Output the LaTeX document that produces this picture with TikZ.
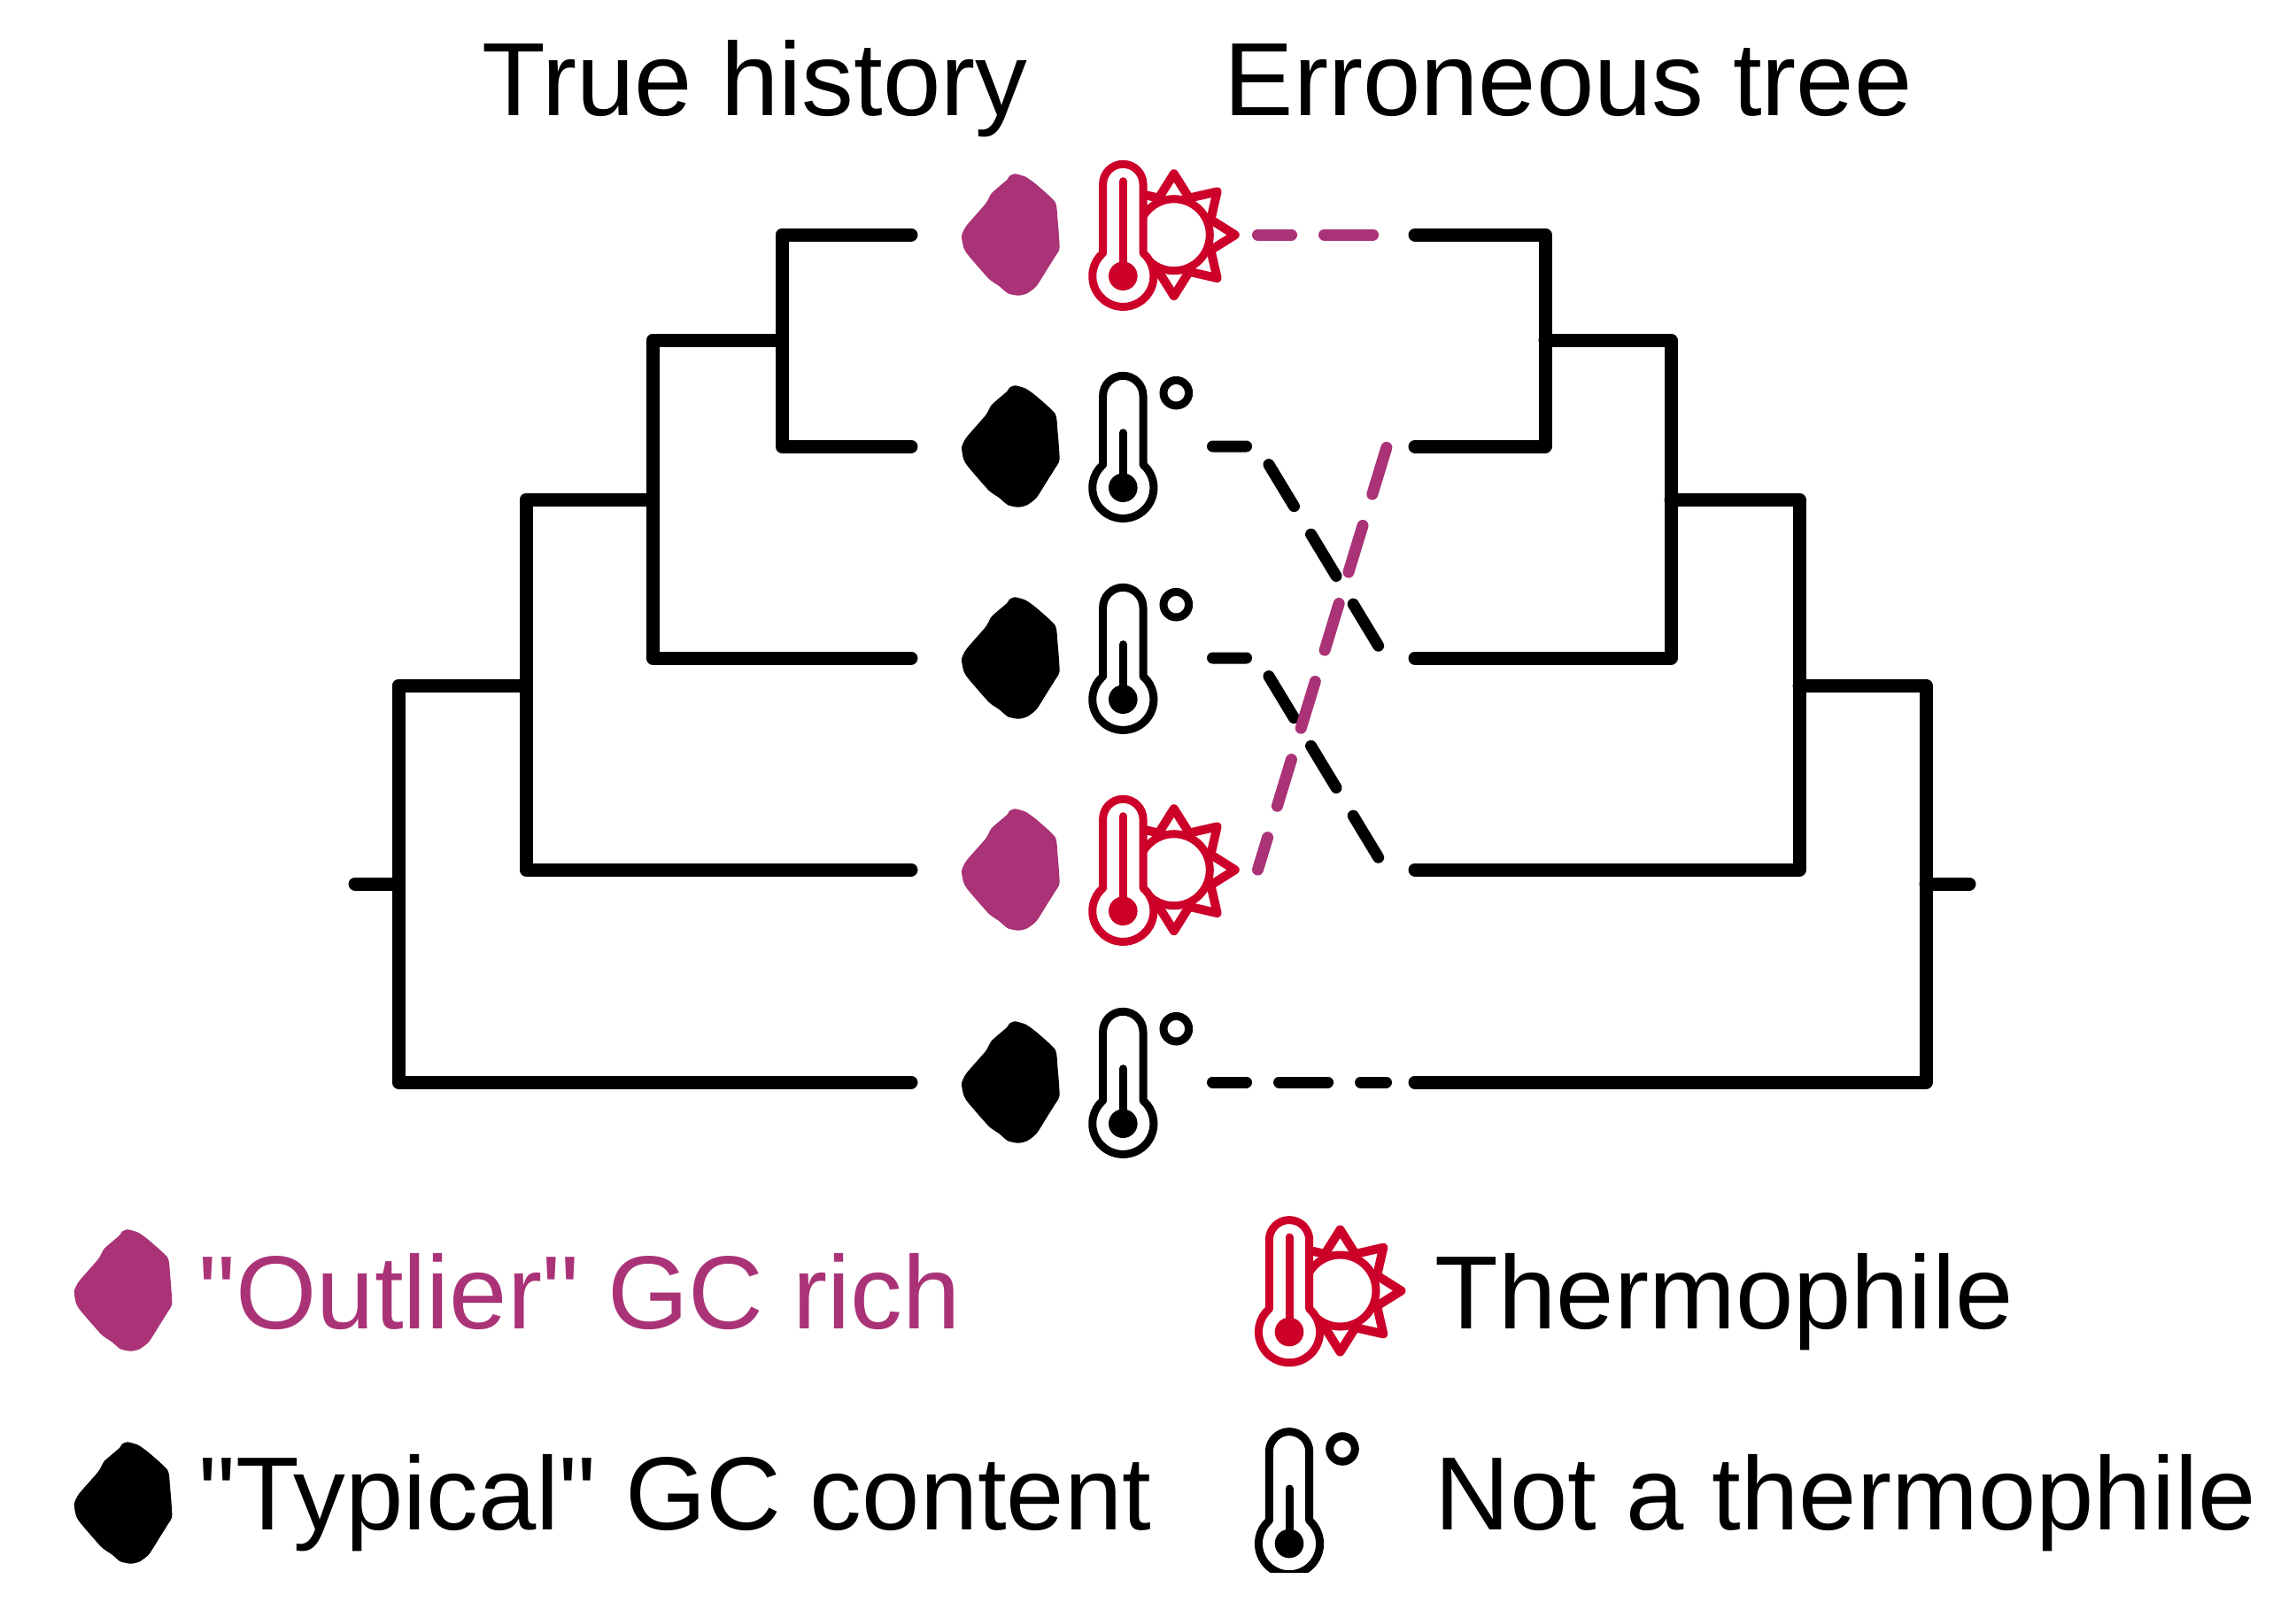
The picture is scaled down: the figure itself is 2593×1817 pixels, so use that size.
\documentclass[tikz,border=0pt]{standalone}
\usepackage{fontspec}
\newfontfamily\labelfont{Liberation Sans}
\definecolor{gcpurple}{RGB}{170,51,119}
\definecolor{hotred}{RGB}{204,0,41}
\tikzset{
  branch/.style={line width=0.15cm,line cap=round,line join=round},
  swap/.style={line width=0.13cm,line cap=round,dash pattern=on 0.55cm off 0.37cm,dash phase=0.17cm},
  label/.style={inner sep=0pt,anchor=base west,font=\labelfont\fontsize{33.4}{40}\selectfont},
  % blob, bulb of the thermometer is the origin of the other two
  gcblob/.pic={
    \fill[pic actions] plot[smooth cycle,tension=0.35] coordinates {(5.3,-68.7) (17,-65.3) (28.7,-57) (50.3,-37) (53,-18.7) (55.3,14.7) (50.3,24.7) (42,38) (29.3,58) (18.7,66.3) (8.7,68.7) (-3,66.3) (-13,58) (-24.7,49.7) (-48,23) (-53,14.7) (-55.3,1.3) (-49.7,-10.3) (-28,-35.3) (-21.3,-47) (-4,-62) (-1.3,-66.3)};
  },
  hotthermo/.pic={
    % sun
    \draw[hotred,line width=0.1cm,line join=round] (57.5,-46.5) ++(0:69)
      \foreach \a in {22.5,67.5,...,337.5} {-- ($(57.5,-46.5)+(\a:45)$) -- ($(57.5,-46.5)+(\a+22.5:69)$)} -- cycle;
    \draw[hotred,line width=0.09cm] (57.5,-46.5) circle[radius=40.5];
    \thermobody{hotred}{-107}
  },
  coldthermo/.pic={
    \draw[line width=0.09cm] (60,-107) circle[radius=14.3];
    \thermobody{black}{-62}
  },
}
\usetikzlibrary{calc}
\newcommand{\thermobody}[2]{
  \draw[#1,fill=white,line width=0.09cm,line join=round] (-22.7,-26) -- (-22.7,-103.7) arc[start angle=180,end angle=360,radius=22.7] -- (22.7,-26) arc[start angle=-49,end angle=229,radius=34.6] -- cycle;
  \fill[#1] (0,0) circle[radius=16.3];
  \draw[#1,line width=0.09cm,line cap=round] (0,0) -- (0,#2);
}
\begin{document}
\begin{tikzpicture}[x=0.01cm,y=-0.01cm]
  \useasboundingbox (0,0) rectangle (2593,1817);
  % titles
  \node[label] (truetitle) at (544,130) {True history};
  \node[label] (errtitle) at (1382,130) {Erroneous tree};
  % tips of both trees and the species icons
  \foreach \name/\y in {a/265,b/504,c/743,d/982,e/1222} {
    \coordinate (lt\name) at (1029,\y);
    \coordinate (rt\name) at (1598,\y);
  }
  \foreach \name/\y/\col/\icon in {a/265/gcpurple/hotthermo,b/504/black/coldthermo,c/743/black/coldthermo,d/982/gcpurple/hotthermo,e/1222/black/coldthermo} {
    \pic[fill=\col] (blob\name) at (1141.3,\y) {gcblob};
    \pic (icon\name) at (1268.3,\y+46.7) {\icon};
  }
  % true history
  \coordinate (la) at (883,384);
  \coordinate (lb) at (737,564);
  \coordinate (lc) at (594,774);
  \coordinate (ld) at (450,998);
  \coordinate (lroot) at (401,998);
  \draw[branch] (lta) -| (la) |- (ltb);
  \draw[branch] (la) -| (lb) |- (ltc);
  \draw[branch] (lb) -| (lc) |- (ltd);
  \draw[branch] (lc) -| (ld) |- (lte);
  \draw[branch] (ld) -- (lroot);
  % erroneous tree
  \coordinate (ra) at (1745,384);
  \coordinate (rb) at (1887,564);
  \coordinate (rc) at (2032,774);
  \coordinate (rd) at (2175,998);
  \coordinate (rroot) at (2224,998);
  \draw[branch] (rta) -| (ra) |- (rtb);
  \draw[branch] (ra) -| (rb) |- (rtc);
  \draw[branch] (rb) -| (rc) |- (rtd);
  \draw[branch] (rc) -| (rd) |- (rte);
  \draw[branch] (rd) -- (rroot);
  % dashed lines from the icons to the erroneous tree
  \coordinate (sa) at (1420.5,265);
  \coordinate (sb) at (1369.5,504);
  \coordinate (sc) at (1369.5,743);
  \coordinate (sd) at (1420.5,982);
  \coordinate (se) at (1369.5,1222);
  \coordinate (bendb) at (1420.5,504);
  \coordinate (bendc) at (1420.5,743);
  \coordinate (ea) at (1565,265);
  \coordinate (eb) at (1566,505);
  \coordinate (ec) at (1565,743);
  \coordinate (ed) at (1565,982);
  \coordinate (ee) at (1565.5,1222);
  \draw[swap] (sb) -- (bendb) -- (ec);
  \draw[swap] (sc) -- (bendc) -- (ed);
  \draw[swap] (se) -- (ee);
  \draw[swap,gcpurple] (sa) -- (ea);
  \draw[swap,gcpurple] (sd) -- (eb);
  % legend
  \pic[fill=gcpurple] (legblobo) at (139,1457) {gcblob};
  \pic[fill=black] (legblobt) at (139,1697) {gcblob};
  \node[label,text=gcpurple] (outlier) at (224,1500) {"Outlier" GC rich};
  \node[label] (typical) at (224,1727) {"Typical" GC content};
  \pic (leghot) at (1456,1504) {hotthermo};
  \begin{scope}
    \clip (1400,1600) rectangle (1600,1775);
    \pic (legcold) at (1456,1743) {coldthermo};
  \end{scope}
  \node[label] (thermo) at (1620,1500) {Thermophile};
  \node[label] (notthermo) at (1620,1727) {Not a thermophile};
\end{tikzpicture}
\end{document}
